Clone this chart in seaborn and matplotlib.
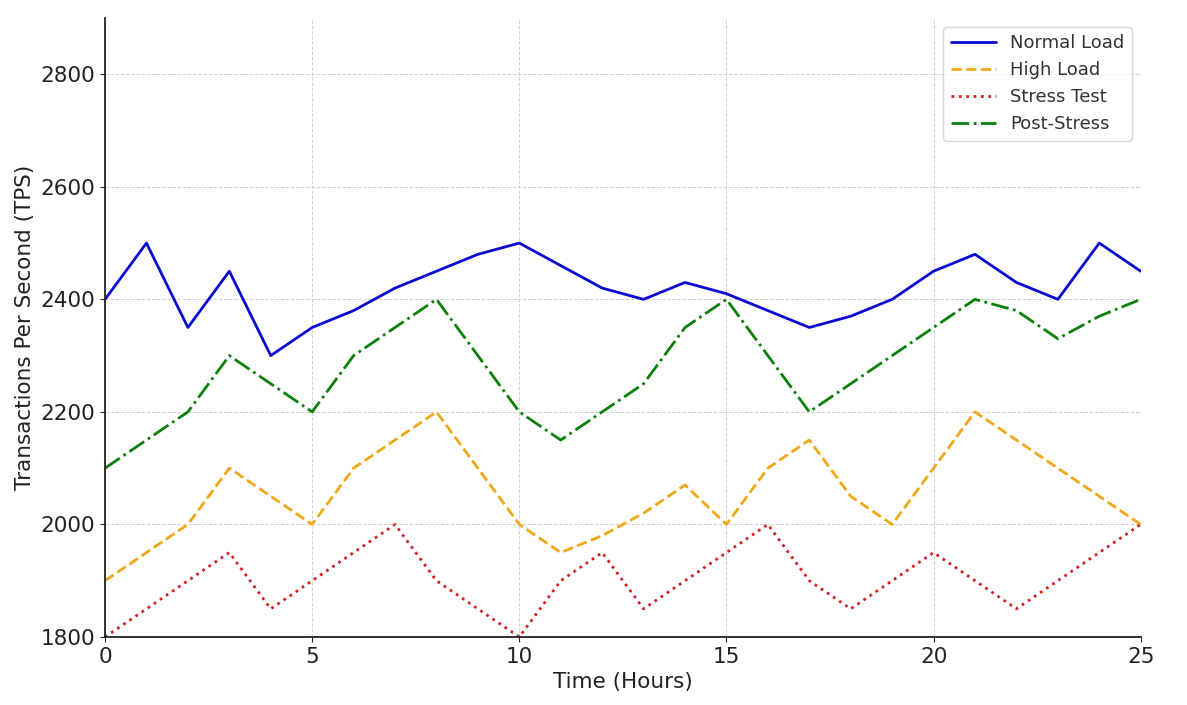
import pandas as pd
import numpy as np
import matplotlib.pyplot as plt
import seaborn as sns

sns.set_style('ticks')

hours = list(range(26))

normal_load = [2400, 2500, 2350, 2450, 2300, 2350, 2380, 2420, 2450, 2480, 2500, 2460, 2420,
               2400, 2430, 2410, 2380, 2350, 2370, 2400, 2450, 2480, 2430, 2400, 2500, 2450]
high_load = [1900, 1950, 2000, 2100, 2050, 2000, 2100, 2150, 2200, 2100, 2000, 1950, 1980,
             2020, 2070, 2000, 2100, 2150, 2050, 2000, 2100, 2200, 2150, 2100, 2050, 2000]
stress_test = [1800, 1850, 1900, 1950, 1850, 1900, 1950, 2000, 1900, 1850, 1800, 1900, 1950,
               1850, 1900, 1950, 2000, 1900, 1850, 1900, 1950, 1900, 1850, 1900, 1950, 2000]
post_stress = [2100, 2150, 2200, 2300, 2250, 2200, 2300, 2350, 2400, 2300, 2200, 2150, 2200,
               2250, 2350, 2400, 2300, 2200, 2250, 2300, 2350, 2400, 2380, 2330, 2370, 2400]

series = [
    ('Normal Load', normal_load, '#0a0ad0', '-'),
    ('High Load', high_load, '#f0a818', '--'),
    ('Stress Test', stress_test, '#d42020', ':'),
    ('Post-Stress', post_stress, '#0a800a', '-.'),
]

fig = plt.figure(figsize=(11.87, 7.05), dpi=100)
ax = fig.add_axes([0.0885, 0.0965, 0.8725, 0.878])

for name, vals, color, ls in series:
    sns.lineplot(x=hours, y=vals, ax=ax, label=name, color=color, linestyle=ls, linewidth=2)

ax.set_xlim(0, 25)
ax.set_ylim(1800, 2900)
ax.set_yticks([1800, 2000, 2200, 2400, 2600, 2800])
ax.set_xticks([0, 5, 10, 15, 20, 25])
ax.grid(True, linestyle='--', color='#d0d0d0', linewidth=0.7)
sns.despine(ax=ax)
for sp in ['left', 'bottom']:
    ax.spines[sp].set_linewidth(1.3)
    ax.spines[sp].set_color('#222222')
ax.tick_params(labelsize=15.5, colors='#222222')
ax.set_xlabel('Time (Hours)', fontsize=15.5, color='#222222')
ax.set_ylabel('Transactions Per Second (TPS)', fontsize=15.5, color='#222222')
leg = ax.legend(loc='upper right', fontsize=13, frameon=True, handlelength=2.5)
for t in leg.get_texts():
    t.set_color('#333333')

plt.savefig('out.png', dpi=100)
